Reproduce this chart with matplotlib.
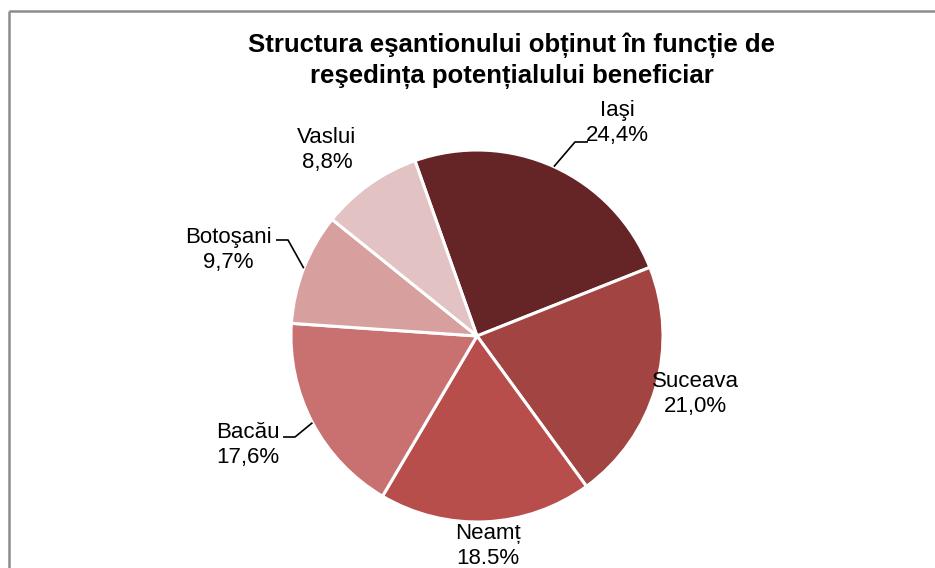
import numpy as np
import matplotlib
matplotlib.use("Agg")
from matplotlib import pyplot as plt

# data, clockwise from the top
judete = ["Iaşi", "Suceava", "Neamț", "Bacău", "Botoşani", "Vaslui"]
procente = [24.4, 21.0, 18.5, 17.6, 9.7, 8.8]
etichete_pct = ["24,4%", "21,0%", "18.5%", "17,6%", "9,7%", "8,8%"]
culori = ["#652426", "#A14442", "#B84E4B", "#C87170", "#D7A09F", "#E2C2C3"]

titlu = ("Structura eşantionului obținut în funcție de\n"
         "reşedința potențialului beneficiar")

W, H = 935, 568


def py(y):
    '''pixel row from top -> data y'''
    return H - y


plt.rcParams['font.family'] = ['Liberation Sans', 'DejaVu Sans']

fig = plt.figure(figsize=(W / 100, H / 100), dpi=100)
ax = fig.add_axes([0, 0, 1, 1])

centru = (477, py(336))
raza = 186
wedges, _ = ax.pie(procente, colors=culori, startangle=109.5,
                   counterclock=False, center=centru, radius=raza,
                   wedgeprops=dict(edgecolor="white", linewidth=2.2))
ax.set_xlim(0, W)
ax.set_ylim(0, H)
ax.set_aspect("equal")
ax.axis("off")

# label centres (pixels) and optional leader elbows
poz = [(617, 123), (695, 394), (488, 546), (248, 445), (228, 250), (327, 150)]
elbow = {0: [(575, 142), (588, 142)],
         3: [(295, 437), (283, 437)],
         4: [(288, 240), (276, 240)]}

for i, (nume, pct) in enumerate(zip(judete, etichete_pct)):
    x, y = poz[i]
    ax.text(x, py(y), nume + "\n" + pct, ha="center", va="center",
            fontsize=16, linespacing=1.2, color="black")
    if i in elbow:
        w = wedges[i]
        a = np.deg2rad((w.theta1 + w.theta2) / 2)
        ex = centru[0] + raza * np.cos(a)
        ey = centru[1] + raza * np.sin(a)
        xs = [ex] + [p[0] for p in elbow[i]]
        ys = [ey] + [py(p[1]) for p in elbow[i]]
        ax.plot(xs, ys, color="black", lw=1.2, solid_capstyle="butt")

ax.text(512, py(61), titlu, ha="center", va="center", fontsize=18.5,
        fontweight="bold", linespacing=1.33)

# chart frame (only top and left edges visible)
ax.plot([9, W + 10], [py(11), py(11)], color="#8c8c8c", lw=1.8,
        solid_capstyle="butt")
ax.plot([9, 9], [py(11), -10], color="#8c8c8c", lw=1.8,
        solid_capstyle="butt")

fig.savefig("out.png", dpi=100, facecolor="white")
